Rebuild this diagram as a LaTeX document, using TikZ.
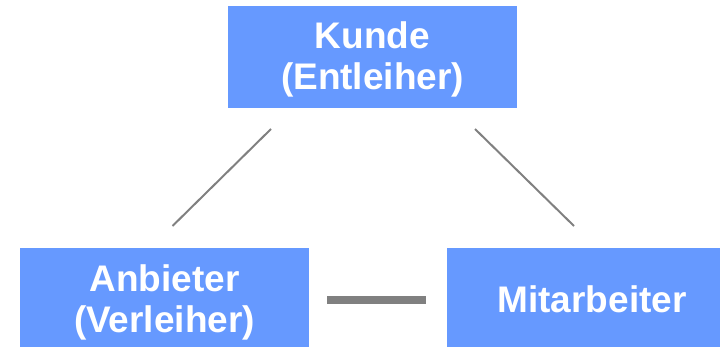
\documentclass[tikz,border=0pt]{standalone}
\usepackage{fontspec}
\setmainfont{Liberation Sans}
\definecolor{boxblue}{HTML}{6699FF}
\definecolor{linegray}{HTML}{808080}
\begin{document}
\begin{tikzpicture}[x=1pt,y=-1pt,
  boxshape/.style={fill=boxblue,draw=none,inner sep=0pt,outer sep=0pt,rectangle},
  label/.style={inner sep=0pt,text=white,align=center,
    font=\fontsize{37}{41}\selectfont\bfseries},
  thin/.style={draw=linegray,line width=2pt},
  thick/.style={draw=linegray,line width=8pt}]
\useasboundingbox (0,0) rectangle (722,347);
\node[boxshape,minimum width=289pt,minimum height=102pt] (KB) at (372.5,57) {};
\node[boxshape,minimum width=289pt,minimum height=99pt] (AB) at (164.5,297.5) {};
\node[boxshape,minimum width=273pt,minimum height=99pt] (MB) at (583.5,297.5) {};
\node[label,text width=289pt,anchor=base] (K) at (372.5,49) {Kunde\\(Entleiher)};
\node[label,text width=289pt,anchor=base] (A) at (164.5,291) {Anbieter\\(Verleiher)};
\node[label,text width=273pt,anchor=base] (M) at (592,312) {Mitarbeiter};
\coordinate (k1) at (271,129);
\coordinate (a1) at (172.5,226);
\coordinate (k2) at (475,129);
\coordinate (m1) at (574,226);
\coordinate (a2) at (327,300);
\coordinate (m2) at (426,300);
\draw[thin] (k1) -- (a1);
\draw[thin] (k2) -- (m1);
\draw[thick] (a2) -- (m2);
\end{tikzpicture}
\end{document}
